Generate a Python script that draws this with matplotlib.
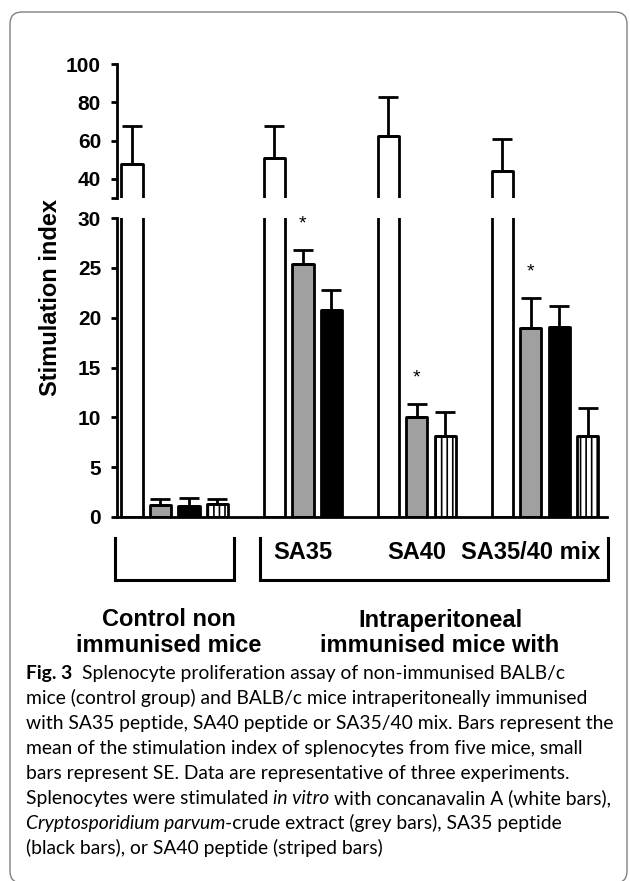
import numpy as np
import matplotlib.pyplot as plt
from matplotlib.patches import FancyBboxPatch
from matplotlib.transforms import IdentityTransform, blended_transform_factory

plt.rcParams['font.family'] = ['Liberation Sans', 'DejaVu Sans']
plt.rcParams['hatch.linewidth'] = 1.2

# stimulation index, one entry per mouse group (nan = not tested)
groups = ['Control', 'SA35', 'SA40', 'SA35/40 mix']
conA_mean = [47.8, 50.7, 62.4, 44.3]
conA_se = [19.8, 16.9, 20.5, 16.4]
crude_mean = [1.2, 25.4, 10.0, 19.0]
crude_se = [0.6, 1.4, 1.3, 3.0]
sa35_mean = [1.1, 20.8, np.nan, 19.1]
sa35_se = [0.8, 2.0, np.nan, 2.1]
sa40_mean = [1.3, np.nan, 8.1, 8.1]
sa40_se = [0.5, np.nan, 2.4, 2.8]
crude_sig = [False, True, True, True]

W, H = 630, 881
fig = plt.figure(figsize=(W / 100, H / 100), dpi=100)


def fx(px):
    return px / W


def fy(py):
    return 1 - py / H


# broken y axis: lower part 0-30, upper part 30-100
ax_lo = fig.add_axes([fx(117), fy(517), (607 - 117) / W, (517 - 218) / H])
ax_hi = fig.add_axes([fx(117), fy(198), (607 - 117) / W, (198 - 64) / H])

series = [
    (conA_mean, conA_se, 'white', None),
    (crude_mean, crude_se, '#a0a0a0', None),
    (sa35_mean, sa35_se, 'black', None),
    (sa40_mean, sa40_se, 'white', '|||'),
]
group_start = [0, 5, 9, 13]
bar_w = 0.74

# slot of every bar: present series are packed next to each other
slots = {}
for g in range(len(groups)):
    rank = 0
    for s, (m, se, c, h) in enumerate(series):
        if not np.isnan(m[g]):
            slots[(s, g)] = group_start[g] + rank
            rank += 1

for ax in (ax_lo, ax_hi):
    for (s, g), x in slots.items():
        m, se, c, h = series[s]
        ax.bar(x, m[g], width=bar_w, color=c, edgecolor='black', linewidth=2,
               hatch=h, zorder=2, joinstyle='round')
        ax.errorbar(x, m[g], yerr=[[0], [se[g]]], fmt='none', ecolor='black',
                    elinewidth=2, capsize=7.5, capthick=2, zorder=3)
    ax.set_xlim(-0.526, 16.67)
    ax.set_xticks([])
    for side in ('top', 'right'):
        ax.spines[side].set_visible(False)
    ax.spines['left'].set_linewidth(2)
    ax.spines['bottom'].set_linewidth(2)
    ax.tick_params(axis='y', direction='out', length=4.5, width=2,
                   labelsize=15, pad=7)
    ax.patch.set_alpha(0)

ax_lo.set_ylim(0, 30)
ax_lo.set_yticks(np.arange(0, 31, 5))
ax_hi.set_ylim(30, 100)
ax_hi.set_yticks([30, 40, 60, 80, 100])
ax_hi.set_yticklabels(['', '40', '60', '80', '100'])
ax_hi.spines['bottom'].set_visible(False)
for ax in (ax_lo, ax_hi):
    for lab in ax.get_yticklabels():
        lab.set_fontweight('bold')

for g in range(len(groups)):
    if crude_sig[g]:
        x = slots[(1, g)]
        ax_lo.text(x, crude_mean[g] + crude_se[g] + 2.6, '*', ha='center',
                   va='center', fontsize=14)

fig.text(fx(51), fy(298), 'Stimulation index', rotation=90, ha='center',
         va='center', fontsize=17, fontweight='bold')

# brackets under the axis
tr = blended_transform_factory(ax_lo.transData, ax_lo.transAxes)
for x0, x1 in [(-0.6, 3.58), (4.49, 16.7)]:
    ax_lo.plot([x0, x0, x1, x1], [-0.07, -0.211, -0.211, -0.07], color='black',
               lw=2.2, transform=tr, clip_on=False, solid_joinstyle='miter')
for g in range(1, len(groups)):
    ax_lo.text(slots[(1, g)], -0.12, groups[g], transform=tr, ha='center',
               va='center', fontsize=17, fontweight='bold')

fig.text(fx(169), fy(620), 'Control non', ha='center', va='center',
         fontsize=17, fontweight='bold')
fig.text(fx(169), fy(645), 'immunised mice', ha='center', va='center',
         fontsize=17, fontweight='bold')
fig.text(fx(440), fy(620), 'Intraperitoneal', ha='center', va='center',
         fontsize=17, fontweight='bold')
fig.text(fx(440), fy(645), 'immunised mice with', ha='center', va='center',
         fontsize=17, fontweight='bold')

# caption
cap_font = ['Lato', 'DejaVu Sans']
cap_size = 13.9
caption = [
    [('Fig. 3', 'bold'), ('Splenocyte proliferation assay of non-immunised BALB/c', 'gap')],
    [('mice (control group) and BALB/c mice intraperitoneally immunised', 'normal')],
    [('with SA35 peptide, SA40 peptide or SA35/40 mix. Bars represent the', 'normal')],
    [('mean of the stimulation index of splenocytes from five mice, small', 'normal')],
    [('bars represent SE. Data are representative of three experiments.', 'normal')],
    [('Splenocytes were stimulated', 'normal'), ('in vitro', 'italic'),
     ('with concanavalin A (white bars),', 'space')],
    [('Cryptosporidium parvum', 'italic'), ('-crude extract (grey bars), SA35 peptide', 'normal')],
    [('(black bars), or SA40 peptide (striped bars)', 'normal')],
]
renderer = fig.canvas.get_renderer()


def text_width(s, **kw):
    t = fig.text(0, 0, s, fontsize=cap_size, family=cap_font, **kw)
    w = t.get_window_extent(renderer).width
    t.remove()
    return w


space_w = text_width('x x') - text_width('xx')
for i, parts in enumerate(caption):
    x = 26
    y = 679 + 25 * i
    for j, (txt, style) in enumerate(parts):
        kw = {}
        if style == 'bold':
            kw['fontweight'] = 'bold'
        if style == 'italic':
            kw['fontstyle'] = 'italic'
        if style == 'gap':
            x += 10
        elif j > 0 and (style in ('italic', 'space') or txt[0] != '-'):
            x += space_w
        t = fig.text(fx(x), fy(y), txt, fontsize=cap_size, family=cap_font,
                     ha='left', va='baseline', **kw)
        x += t.get_window_extent(renderer).width

frame = FancyBboxPatch((10, -2), 617, 871, boxstyle='round,pad=0,rounding_size=12',
                       transform=IdentityTransform(), fill=False,
                       edgecolor='#808080', linewidth=1)
fig.add_artist(frame)

fig.savefig('out.png', dpi=100)
